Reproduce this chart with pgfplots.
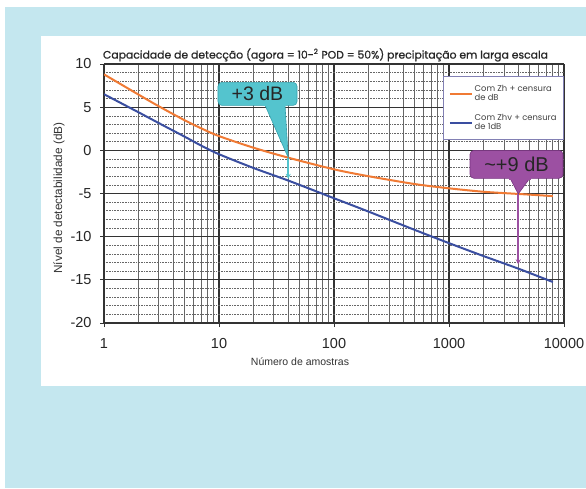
\documentclass[border=0pt]{standalone}
\usepackage{pgfplots}
\pgfplotsset{compat=1.18}
\usetikzlibrary{arrows.meta}
\usepackage{fontspec}
\setmainfont{Liberation Sans}
\newfontfamily\gothic{Poppins}
\newfontfamily\gothicsb{Poppins}[FakeBold=0.8]
\definecolor{bgblue}{RGB}{196,231,239}
\definecolor{corange}{RGB}{240,122,52}
\definecolor{cblue}{RGB}{58,78,160}
\definecolor{ccyan}{RGB}{84,196,206}
\definecolor{ccyand}{RGB}{52,160,172}
\definecolor{cpurple}{RGB}{156,80,162}
\definecolor{cpurpled}{RGB}{120,50,128}
\definecolor{legborder}{RGB}{130,128,180}
\begin{document}
\begin{tikzpicture}[x=1pt,y=1pt]
\useasboundingbox (0,0) rectangle (586,488);
\fill[white] (0,0) rectangle (586,488);
\fill[bgblue] (5,0) rectangle (586,481);
\fill[white] (41,102) rectangle (586,452);
\begin{axis}[
  at={(104pt,165pt)}, anchor=south west,
  scale only axis, width=460pt, height=259pt,
  xmode=log, xmin=1, xmax=10000, ymin=-20, ymax=10,
  xtick={1,10,100,1000,10000}, xticklabels={1,10,100,1000,10000},
  ytick={-20,-15,-10,-5,0,5,10},
  minor ytick={-19,-18,-17,-16,-14,-13,-12,-11,-9,-8,-7,-6,-4,-3,-2,-1,1,2,3,4,6,7,8,9},
  /pgf/number format/assume math mode=true,
  tick label style={font=\fontsize{14.5}{14.5}\selectfont, text=black!85},
  xticklabel style={yshift=-8pt},
  yticklabel style={xshift=-5pt},
  tick align=outside, major tick length=4pt, minor tick length=0pt,
  xtick pos=bottom, ytick pos=left,
  grid=both,
  major grid style={black!80, line width=1.1pt},
  minor x grid style={black!60, line width=0.75pt},
  minor y grid style={black!60, line width=0.6pt, densely dotted},
  axis line style={black!80, line width=1pt},
  tick style={black!80, line width=0.8pt},
  legend style={at={(1,0.952)}, anchor=north east, draw=legborder, line width=0.9pt,
    font=\gothic\fontsize{8.4}{9.2}\selectfont, text=black!75, cells={align=left},
    inner xsep=5pt, inner ysep=6.5pt, row sep=8pt},
  legend cell align=left,
  legend image code/.code={\draw[#1, line width=1.8pt] (0pt,0pt) -- (22pt,0pt);},
]
\addplot[corange, line width=2pt, smooth] coordinates {
(1,8.8) (2,6.45) (3,5.1) (5,3.5) (7,2.55) (10,1.65) (20,0.3) (40,-0.85) (100,-2.2)
(200,-3.0) (500,-3.9) (1000,-4.4) (2000,-4.8) (4000,-5.05) (8000,-5.3)};
\addlegendentry{Com Zh + censura\\de dB}
\addplot[cblue, line width=2pt, smooth] coordinates {
(1,6.5) (2,4.4) (3,3.15) (5,1.6) (7,0.55) (10,-0.45) (20,-2.05) (40,-3.5)
(100,-5.55) (200,-7.1) (500,-9.2) (1000,-10.75) (2000,-12.25) (4000,-13.7) (8000,-15.25)};
\addlegendentry{Com Zhv + censura\\de 1dB}
% callout +3 dB
\draw[ccyan, line width=2pt, -{Stealth[length=5pt,width=5pt]}] (axis cs:40,-0.85) -- (axis cs:40,-3.3);
\filldraw[fill=ccyan, draw=ccyand, line width=0.6pt, rounded corners=4pt]
  (axis cs:9.8,5.2) rectangle (axis cs:47.7,7.88);
\filldraw[fill=ccyan, draw=ccyand, line width=0.6pt]
  (axis cs:25.1,5.25) -- (axis cs:40,-0.85) -- (axis cs:37.5,5.25);
\fill[ccyan] (axis cs:24,5.1) rectangle (axis cs:38.5,5.7);
\node[font=\fontsize{19.5}{19.5}\selectfont, text=black!85] at (axis cs:21.6,6.55) {+3 dB};
% callout ~+9 dB
\draw[cpurple, line width=2pt, -{Stealth[length=5pt,width=5pt]}] (axis cs:4000,-5.05) -- (axis cs:4000,-13.2);
\filldraw[fill=cpurple, draw=cpurpled, line width=0.6pt, rounded corners=4pt]
  (axis cs:1523,-3.24) rectangle (axis cs:9795,0);
\filldraw[fill=cpurple, draw=cpurpled, line width=0.6pt]
  (axis cs:3390,-3.2) -- (axis cs:4000,-5.05) -- (axis cs:5060,-3.2);
\fill[cpurple] (axis cs:3300,-3.4) rectangle (axis cs:5200,-2.8);
\node[font=\fontsize{20}{20}\selectfont, text=black!85] at (axis cs:3864,-1.62) {\char"007E+9 dB};
\end{axis}
\node[anchor=center] at (325.5,433) {\resizebox{445pt}{!}{\gothicsb\fontsize{9}{9}\selectfont\color{black!85}Capacidade de detecção (agora = 10-\textsuperscript{2} POD = 50\%) precipitação em larga escala}};
\node[rotate=90, anchor=center] at (59,290) {\resizebox{151pt}{!}{\fontsize{10}{10}\selectfont\color{black!80}Nível de detectabilidade (dB)}};
\node[anchor=center] at (300,126) {\fontsize{10.5}{10.5}\selectfont\color{black!80}Número de amostras};
\end{tikzpicture}
\end{document}
